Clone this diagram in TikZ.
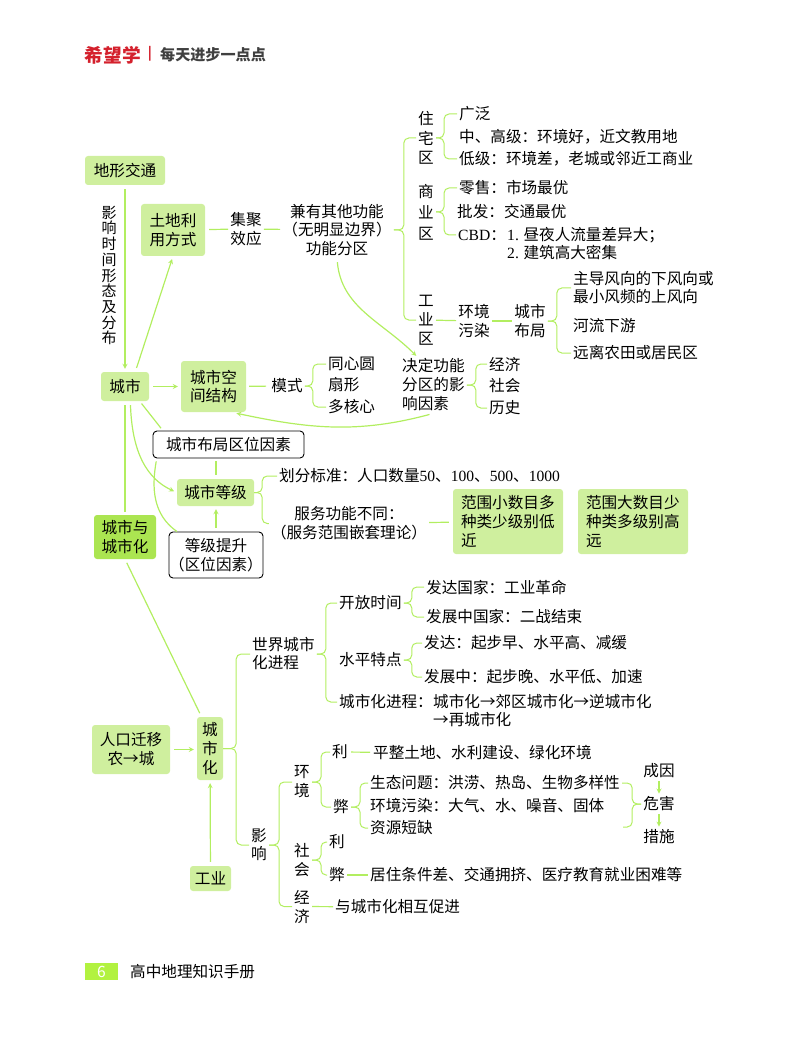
\documentclass[tikz,border=0pt]{standalone}
\usepackage{fontspec}
\setmainfont{Noto Sans CJK SC}
\newfontfamily\latf{Liberation Serif}
\usetikzlibrary{arrows, positioning}
\definecolor{boxg}{HTML}{CFEF9E}
\definecolor{darkg}{HTML}{ABE551}
\definecolor{lineg}{HTML}{B2EE60}
\definecolor{footg}{HTML}{B2F240}
\definecolor{brandr}{HTML}{D4202C}
\tikzset{>=stealth}
\tikzset{
  txt/.style={inner sep=2pt, align=center, font=\fontsize{15.6}{19}\selectfont},
  tl/.style={txt, anchor=west, align=left},
  gbox/.style={txt, fill=boxg, rounded corners=3pt, inner sep=0pt},
  wbox/.style={txt, draw=black, line width=.9pt, fill=white, rounded corners=4pt, inner sep=0pt},
  lnk/.style={draw=lineg, line width=1.2pt},
  arr/.style={lnk, ->, shorten >=3pt, shorten <=4pt},
}
\newcommand{\brc}[4]{
  \draw[lnk, line width=1pt, rounded corners=5pt] (#3) -| ([xshift=#1]#2) -- (#2);
  \draw[lnk, line width=1pt, rounded corners=5pt] (#4) -| ([xshift=#1]#2) -- (#2);
}
\begin{document}
\begin{tikzpicture}[>=stealth, x=1pt, y=-1pt]
    \useasboundingbox (0,0) rectangle (800,1040);
    \node [txt, font=\fontsize{18.7}{20}\selectfont\bfseries, text=brandr](LG) at (113,55) {希望学};
    \node [txt, font=\fontsize{13}{14}\selectfont\bfseries, text=brandr](LB) at (150,54) {|};
    \node [txt, font=\fontsize{15.1}{18}\selectfont\bfseries, text=black!75](SL) at (213,55) {每天进步一点点};

    \node [gbox, minimum width=80pt, minimum height=29pt](DX) at (125,170.5) {地形交通};
    \node [txt, font=\fontsize{15}{15.7}\selectfont](YX) at (109,275.5) {影\\响\\时\\间\\形\\态\\及\\分\\布};
    \node [gbox, minimum width=64pt, minimum height=52pt](TD) at (173,230) {土地利\\用方式};
    \node [txt](JJ) at (246,229) {集聚\\效应};
    \node [txt, font=\fontsize{15.6}{18.7}\selectfont](JY) at (337,230) {兼有其他功能\\（无明显边界）\\功能分区};

    \node [txt, font=\fontsize{15.6}{19.5}\selectfont](ZZ) at (426,138) {住\\宅\\区};
    \node [tl](Z1) at (457,114) {广泛};
    \node [tl](Z2) at (457,137) {中、高级：环境好，近文教用地};
    \node [tl](Z3) at (457,159) {低级：环境差，老城或邻近工商业};
    \node [txt, font=\fontsize{15.6}{21}\selectfont](SY) at (426,212) {商\\业\\区};
    \node [tl](S1) at (457,188) {零售：市场最优};
    \node [tl](S2) at (455,212) {批发：交通最优};
    \node [tl](S3) at (456,235) {{\latf CBD}：};
    \node [tl, font=\fontsize{15.6}{18}\selectfont](S4) at (505,244) {{\latf 1.} 昼夜人流量差异大；\\{\latf 2.} 建筑高大密集};
    \node [txt](GY) at (426,320) {工\\业\\区};
    \node [txt](HJ) at (474,321) {环境\\污染};
    \node [txt](BJ) at (530,321) {城市\\布局};
    \node [tl, font=\fontsize{15.6}{18}\selectfont](B1) at (571,288) {主导风向的下风向或\\最小风频的上风向};
    \node [tl](B2) at (571,326) {河流下游};
    \node [tl](B3) at (571,353) {远离农田或居民区};

    \node [gbox, minimum width=48pt, minimum height=29pt](CS) at (125,386.5) {城市};
    \node [gbox, minimum width=65pt, minimum height=51pt, font=\fontsize{15.6}{18.5}\selectfont](KJ) at (213.5,386.5) {城市空\\间结构};
    \node [txt](MS) at (287,386) {模式};
    \node [tl](M1) at (326,364) {同心圆};
    \node [tl](M2) at (326,385) {扇形};
    \node [tl](M3) at (326,407) {多核心};
    \node [tl](JD) at (400,385) {决定功能\\分区的影\\响因素};
    \node [tl](J1) at (487,364) {经济};
    \node [tl](J2) at (487,386) {社会};
    \node [tl](J3) at (487,408) {历史};

    \node [wbox, minimum width=151pt, minimum height=27pt](QW) at (228.5,444.5) {城市布局区位因素};
    \node [gbox, minimum width=77pt, minimum height=27pt](DJ) at (215.5,492.5) {城市等级};
    \node [tl](D1) at (277,476) {划分标准：人口数量{\latf 50}、{\latf 100}、{\latf 500}、{\latf 1000}};
    \node [txt](D2) at (349,523.5) {服务功能不同：\\（服务范围嵌套理论）};
    \node [wbox, minimum width=94pt, minimum height=46pt](TS) at (216,555) {等级提升\\（区位因素）};
    \node [gbox, fill=darkg, minimum width=62pt, minimum height=44pt](CH) at (125,537) {城市与\\城市化};
    \node [gbox, text width=94pt, align=left, minimum width=110pt, minimum height=65pt](XS) at (508,521.5) {范围小数目多\\种类少级别低\\近};
    \node [gbox, text width=94pt, align=left, minimum width=110pt, minimum height=65pt](DS) at (633,521.5) {范围大数目少\\种类多级别高\\远};

    \node [tl, font=\fontsize{15.6}{18}\selectfont](SJ) at (250,654) {世界城市\\化进程};
    \node [tl](KF) at (337,603) {开放时间};
    \node [tl](K1) at (424,587) {发达国家：工业革命};
    \node [tl](K2) at (424,617) {发展中国家：二战结束};
    \node [tl](SP) at (337,660) {水平特点};
    \node [tl](P1) at (422,643) {发达：起步早、水平高、减缓};
    \node [tl](P2) at (422,677) {发展中：起步晚、水平低、加速};
    \node [tl](JC) at (337,702) {城市化进程：};
    \node [tl](C1) at (431,702) {城市化→郊区城市化→逆城市化};
    \node [tl](C2) at (431,720) {→再城市化};

    \node [gbox, minimum width=78pt, minimum height=49pt](RK) at (131,749.5) {人口迁移\\农→城};
    \node [gbox, minimum width=26pt, minimum height=63pt](HH) at (210,748.5) {城\\市\\化};
    \node [gbox, minimum width=41pt, minimum height=25pt](IN) at (210.5,878.5) {工业};
    \node [txt, font=\fontsize{15.6}{18}\selectfont](YI) at (259,845) {影\\响};
    \node [txt](HE) at (302,782) {环\\境};
    \node [txt](SH) at (302,860) {社\\会};
    \node [txt](JI) at (302,906.5) {经\\济};
    \node [txt](L1) at (340,752) {利};
    \node [txt](B4) at (341,807) {弊};
    \node [tl](PZ) at (371,753) {平整土地、水利建设、绿化环境};
    \node [tl](ST) at (368,783) {生态问题：洪涝、热岛、生物多样性};
    \node [tl](WR) at (368,806) {环境污染：大气、水、噪音、固体};
    \node [tl](ZY) at (368,828) {资源短缺};
    \coordinate (ZE) at (623,827);
    \node [txt](CY) at (659,771) {成因};
    \node [txt](WH) at (659,804) {危害};
    \node [txt](CO) at (659,837) {措施};
    \node [txt](L2) at (337,842) {利};
    \node [txt](B5) at (337,875) {弊};
    \node [tl](JZ) at (368,875) {居住条件差、交通拥挤、医疗教育就业困难等};
    \node [tl](XH) at (333,907) {与城市化相互促进};

    \node [txt, fill=footg, text=white, inner sep=0pt, minimum width=33pt, minimum height=17pt](PG) at (101.5,971.5) {6};
    \node [tl](FT) at (128,972) {高中地理知识手册};

    \draw [arr] (DX)--(CS);
    \draw [arr] (CS.55)--(TD.south);
    \draw [arr] (CS)--(KJ);
    \draw [lnk, shorten <=4pt] (TD)--(JJ);
    \draw [lnk] (JJ)--(JY);
    \draw [lnk, shorten <=3pt, shorten >=3pt] (KJ)--(MS);
    \draw [lnk] (GY)--(HJ);
    \draw [lnk] (HJ)--(BJ);
    \draw [arr, shorten >=1pt] (JY.south) to[out=-85, in=135] (JD.120);
    \draw [arr, shorten >=5pt] (JD.south) to[out=195, in=-12] (KJ.-55);
    \draw [lnk, shorten <=3pt, shorten >=3pt] (CS.-45)--(QW.168);
    \draw [arr] (CS.-70) to[out=-88, in=155] (DJ.west);
    \draw [lnk, shorten <=4pt, shorten >=3pt] (TS.north |- DJ.north)--(TS.north |- QW.south);
    \draw [arr] (TS.north)--(TS.north |- DJ.south);
    \draw [lnk, shorten >=3pt] (TS.149) to[out=145, in=-100] (QW.-169);
    \draw [lnk, shorten <=4pt, shorten >=3pt] (CS)--(CH);
    \draw [lnk, shorten <=4pt, shorten >=4pt] (CH.south)--(HH.105);
    \draw [lnk, shorten >=4pt] (D2)--(XS);
    \draw [arr] (RK)--(RK.east -| HH.west);
    \draw [arr] (IN)--(HH);
    \draw [lnk, shorten <=1pt, shorten >=1pt] (L1)--(PZ);
    \draw [lnk] (B5)--(JZ);
    \draw [lnk] (JI)--(XH);
    \draw [arr, shorten <=1pt, shorten >=1pt] (CY)--(WH);
    \draw [arr, shorten <=1pt, shorten >=1pt] (WH)--(CO);

    \brc{10pt}{JY.east}{ZZ.west}{GY.west}
    \brc{8pt}{ZZ.east}{Z1.west}{Z3.west}
    \brc{8pt}{SY.east}{S1.west}{S3.west}
    \brc{9pt}{BJ.east}{B1.west}{B3.west}
    \brc{8pt}{MS.east}{M1.west}{M3.west}
    \brc{9pt}{JD.east}{J1.west}{J3.west}
    \brc{8pt}{DJ.east}{D1.west}{D2.west}
    \brc{9pt}{SJ.east}{KF.west}{JC.west}
    \brc{8pt}{KF.east}{K1.west}{K2.west}
    \brc{8pt}{SP.east}{P1.west}{P2.west}
    \brc{13pt}{HH.east}{SJ.west}{YI.west}
    \brc{10pt}{YI.east}{HE.west}{JI.west}
    \brc{9pt}{HE.east}{L1.west}{B4.west}
    \brc{9pt}{B4.east}{ST.west}{ZY.west}
    \brc{9pt}{SH.east}{L2.west}{B5.west}
    \brc{-9pt}{WH.west}{ST.east}{ZE}
\end{tikzpicture}
\end{document}
